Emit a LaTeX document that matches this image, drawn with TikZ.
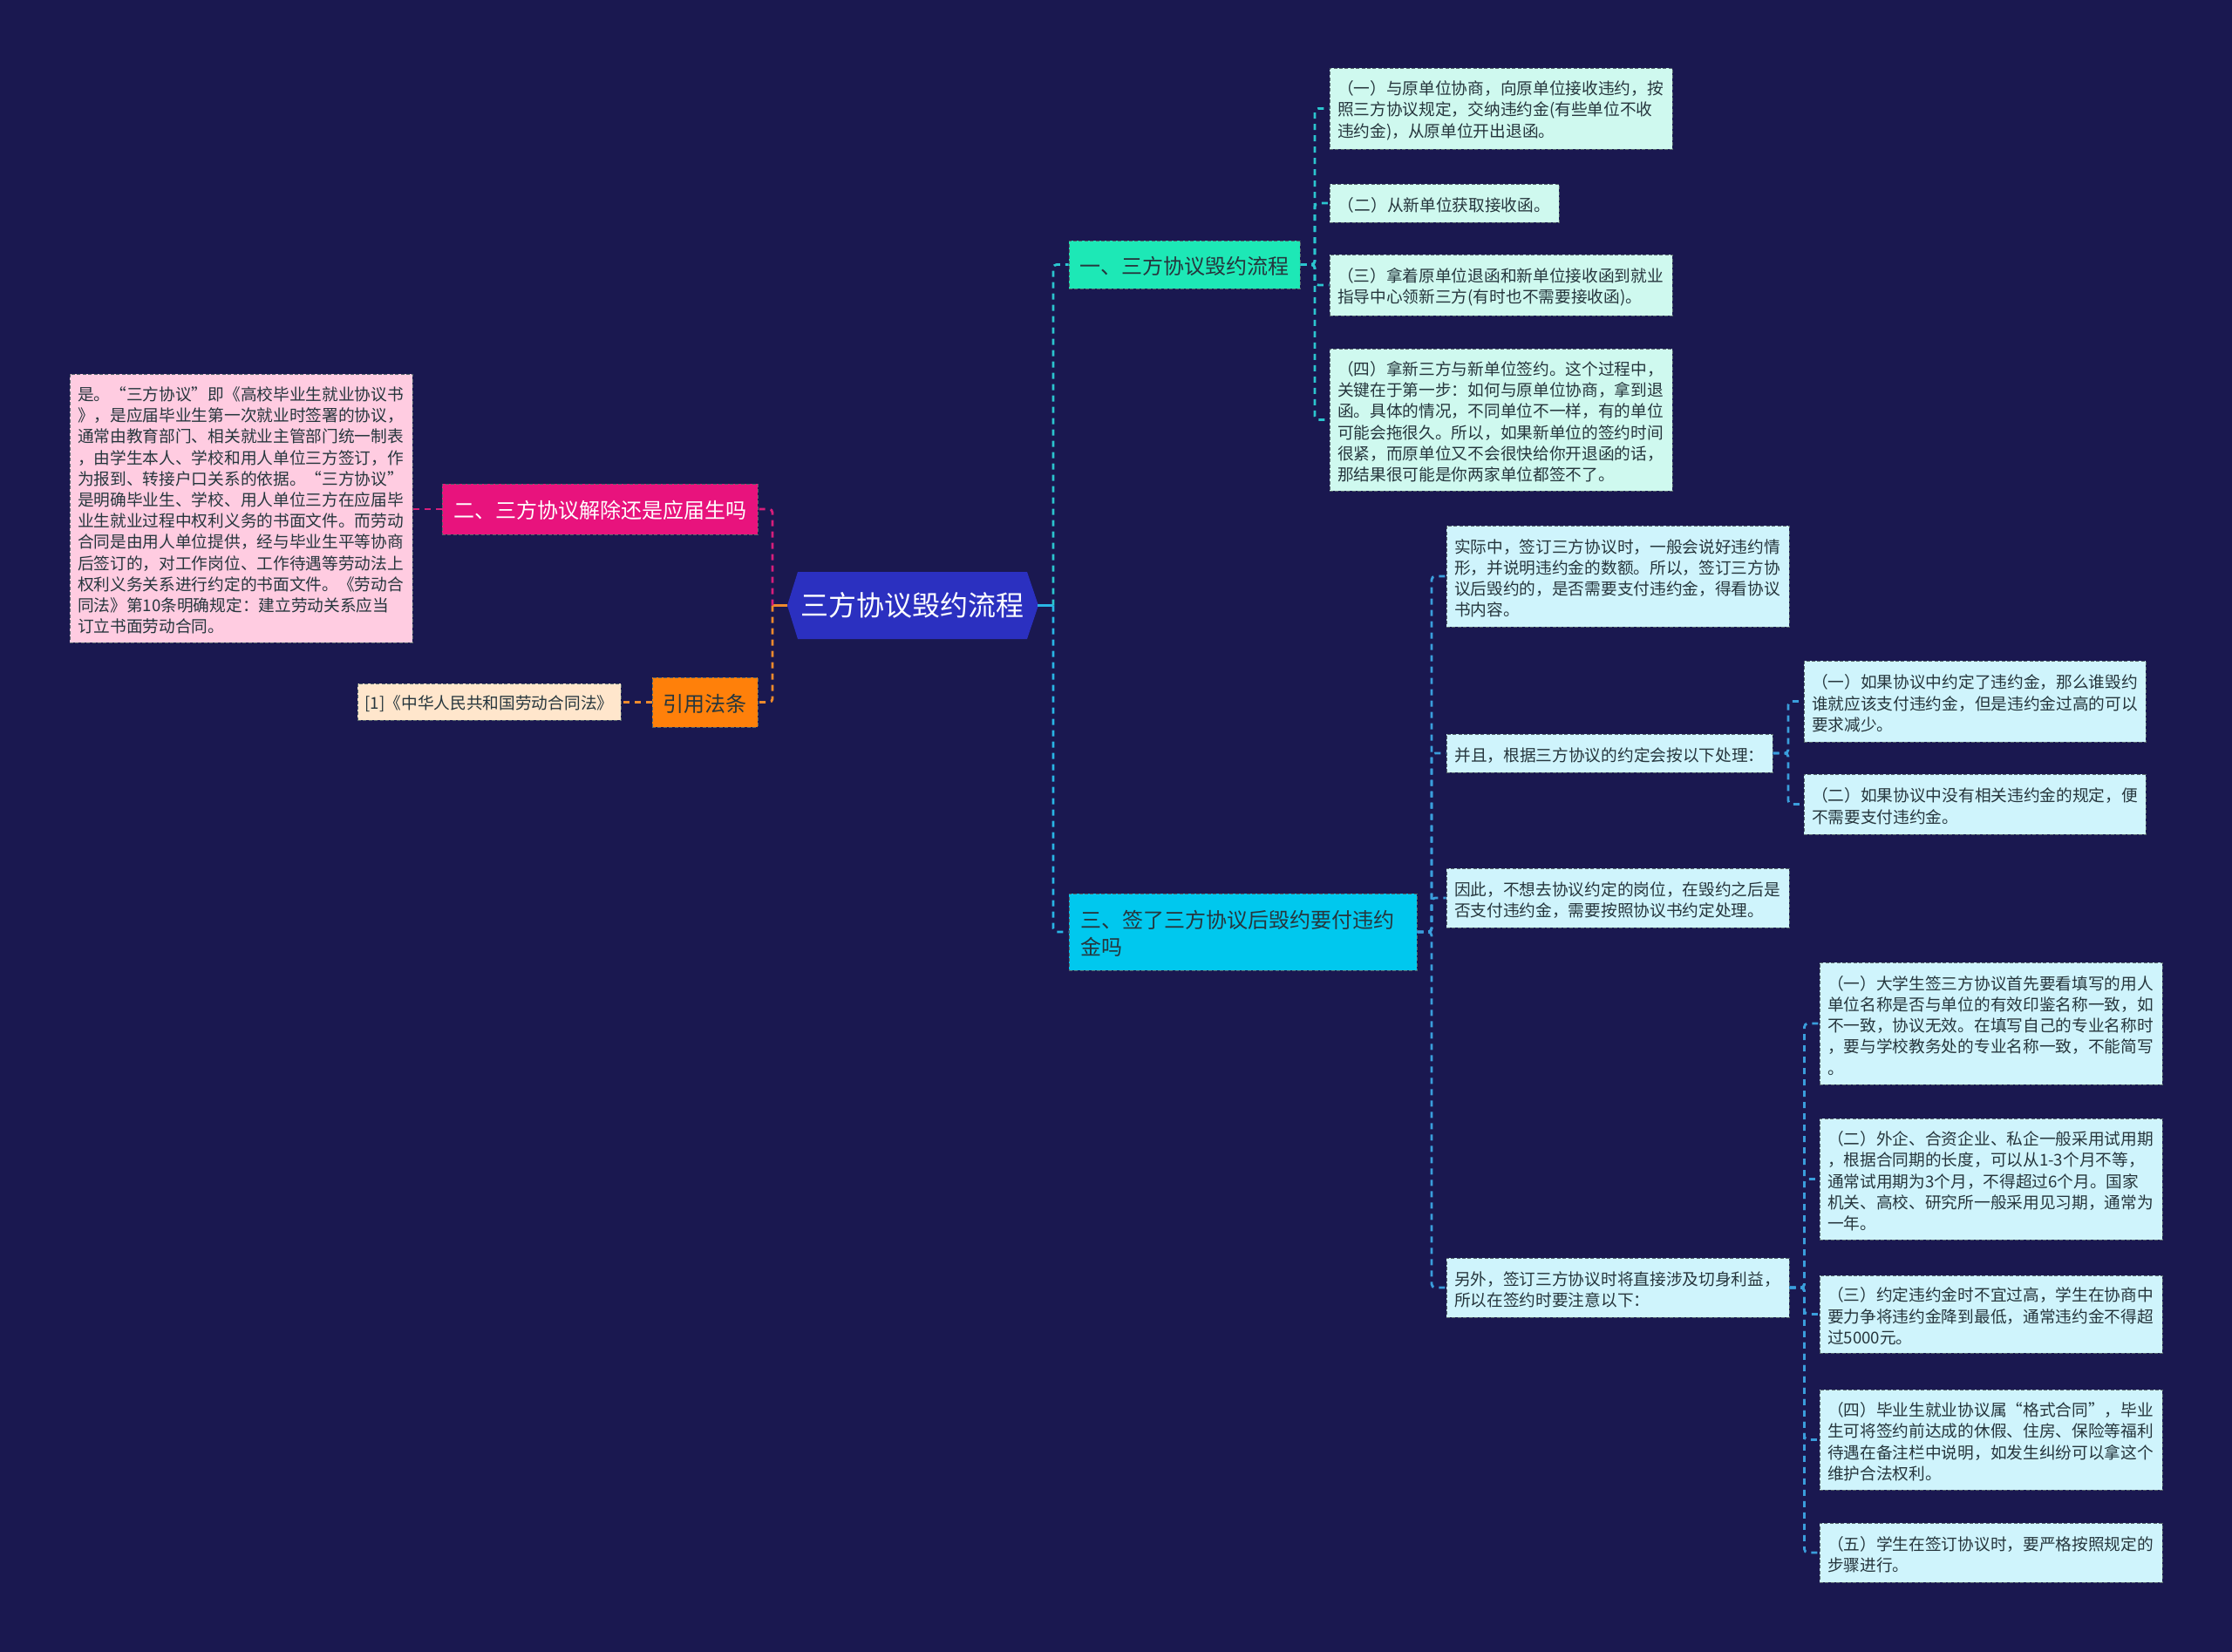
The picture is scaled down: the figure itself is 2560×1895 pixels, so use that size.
\documentclass[tikz,border=0pt]{standalone}
\usepackage{fontspec}
\setmainfont{Noto Sans CJK SC}
\usetikzlibrary{calc}
\definecolor{cBg}{HTML}{1A1850}
\definecolor{cRoot}{HTML}{2B30C0}
\definecolor{cOne}{HTML}{1DE8B6}
\definecolor{cThree}{HTML}{00C8EE}
\definecolor{cTwo}{HTML}{E8137D}
\definecolor{cCite}{HTML}{FF800A}
\definecolor{cPink}{HTML}{FFCCE1}
\definecolor{cCream}{HTML}{FFE6CC}
\definecolor{cLeafA}{HTML}{CFF9EF}
\definecolor{cLeafB}{HTML}{CFF4FC}
\definecolor{cText}{HTML}{26363D}
\definecolor{cBorder}{HTML}{55656B}
\definecolor{lOne}{HTML}{2BC5CF}
\definecolor{lThree}{HTML}{29B6E6}
\definecolor{lThreeB}{HTML}{3A9EDC}
\definecolor{lMag}{HTML}{D61E7B}
\definecolor{lOra}{HTML}{EE8A2D}
\tikzset{
  conn/.style={line width=1.4pt, dash pattern=on 3.5pt off 3pt, rounded corners=2pt},
  stub/.style={line width=1.4pt},
  boxbase/.style={rectangle, draw=cBorder, line width=0.5pt, dash pattern=on 2pt off 1.2pt, inner sep=0pt, align=left},
  leaftxt/.style={font=\fontsize{9.35pt}{12.1pt}\selectfont, text=cText, execute at begin node={\rule{0pt}{1.1em}}},
  leafa/.style={boxbase, leaftxt, fill=cLeafA},
  leafb/.style={boxbase, leaftxt, fill=cLeafB},
  pinkbox/.style={boxbase, leaftxt, fill=cPink},
  creambox/.style={boxbase, leaftxt, fill=cCream},
  mainbox/.style={boxbase, font=\fontsize{12pt}{15.5pt}\selectfont, execute at begin node={\rule{0pt}{1.0em}}},
  rootbox/.style={rectangle, inner sep=0pt, text=white, font=\fontsize{16pt}{19pt}\selectfont},
}
\begin{document}
\begin{tikzpicture}[x=0.5pt,y=-0.5pt]
\fill[cBg] (0,0) rectangle (2560,1895);
\useasboundingbox (0,0) rectangle (2560,1895);

% root hexagon
\fill[cRoot] (903,694.5) -- (915,656) -- (1178,656) -- (1191,694.5) -- (1178,733) -- (915,733) -- cycle;
\node[rootbox, minimum width=143.5pt, minimum height=38.5pt] (root) at (1046.5,694.5) {三方协议毁约流程};

% main branches
\node[mainbox, fill=cOne, text=cText, minimum width=132.5pt, minimum height=27.5pt] (n1) at (1358.5,303.5) {一、三方协议毁约流程};
\node[mainbox, fill=cThree, text=cText, minimum width=199.5pt, minimum height=44pt, text width=186.5pt] (n3) at (1425.5,1069) {三、签了三方协议后毁约要付违约\\金吗};
\node[mainbox, fill=cTwo, text=white, minimum width=181pt, minimum height=29pt] (n2) at (688,584) {二、三方协议解除还是应届生吗};
\node[mainbox, fill=cCite, text=cText, minimum width=60.5pt, minimum height=28.5pt] (n4) at (808.5,805.5) {引用法条};

% left leaves
\node[pinkbox, minimum width=196.5pt, minimum height=154pt, text width=187.5pt] (p1) at (276.5,583) {是。“三方协议”即《高校毕业生就业协议书\\》，是应届毕业生第一次就业时签署的协议，\\通常由教育部门、相关就业主管部门统一制表\\，由学生本人、学校和用人单位三方签订，作\\为报到、转接户口关系的依据。“三方协议”\\是明确毕业生、学校、用人单位三方在应届毕\\业生就业过程中权利义务的书面文件。而劳动\\合同是由用人单位提供，经与毕业生平等协商\\后签订的，对工作岗位、工作待遇等劳动法上\\权利义务关系进行约定的书面文件。《劳动合\\同法》第10条明确规定：建立劳动关系应当\\订立书面劳动合同。};
\node[creambox, minimum width=151pt, minimum height=21pt] (c1) at (561,805) {[1]《中华人民共和国劳动合同法》};

% leaves of n1
\node[leafa, minimum width=196.5pt, minimum height=46.5pt, text width=187.5pt] (a1) at (1721.5,124.5) {（一）与原单位协商，向原单位接收违约，按\\照三方协议规定，交纳违约金(有些单位不收\\违约金)，从原单位开出退函。};
\node[leafa, minimum width=131.5pt, minimum height=22pt] (a2) at (1656.5,233) {（二）从新单位获取接收函。};
\node[leafa, minimum width=196.5pt, minimum height=35pt, text width=187.5pt] (a3) at (1721.5,327) {（三）拿着原单位退函和新单位接收函到就业\\指导中心领新三方(有时也不需要接收函)。};
\node[leafa, minimum width=196.5pt, minimum height=81.5pt, text width=187.5pt] (a4) at (1721.5,481.5) {（四）拿新三方与新单位签约。这个过程中，\\关键在于第一步：如何与原单位协商，拿到退\\函。具体的情况，不同单位不一样，有的单位\\可能会拖很久。所以，如果新单位的签约时间\\很紧，而原单位又不会很快给你开退函的话，\\那结果很可能是你两家单位都签不了。};

% leaves of n3
\node[leafb, minimum width=196.5pt, minimum height=58pt, text width=187.5pt] (b1) at (1855.5,661) {实际中，签订三方协议时，一般会说好违约情\\形，并说明违约金的数额。所以，签订三方协\\议后毁约的，是否需要支付违约金，得看协议\\书内容。};
\node[leafb, minimum width=187pt, minimum height=22pt] (b2) at (1846,864) {并且，根据三方协议的约定会按以下处理：};
\node[leafb, minimum width=196.5pt, minimum height=34pt, text width=187.5pt] (b3) at (1855.5,1030) {因此，不想去协议约定的岗位，在毁约之后是\\否支付违约金，需要按照协议书约定处理。};
\node[leafb, minimum width=196.5pt, minimum height=34pt, text width=187.5pt] (b4) at (1855.5,1477) {另外，签订三方协议时将直接涉及切身利益，\\所以在签约时要注意以下：};

% leaves of b2
\node[leafb, minimum width=196pt, minimum height=46.5pt, text width=187pt] (e1) at (2265,804.5) {（一）如果协议中约定了违约金，那么谁毁约\\谁就应该支付违约金，但是违约金过高的可以\\要求减少。};
\node[leafb, minimum width=196pt, minimum height=34.5pt, text width=187pt] (e2) at (2265,922.5) {（二）如果协议中没有相关违约金的规定，便\\不需要支付违约金。};

% leaves of b4
\node[leafb, minimum width=196.5pt, minimum height=70pt, text width=187.5pt] (d1) at (2283.5,1174) {（一）大学生签三方协议首先要看填写的用人\\单位名称是否与单位的有效印鉴名称一致，如\\不一致，协议无效。在填写自己的专业名称时\\，要与学校教务处的专业名称一致，不能简写\\。};
\node[leafb, minimum width=196.5pt, minimum height=69.5pt, text width=187.5pt] (d2) at (2283.5,1352.5) {（二）外企、合资企业、私企一般采用试用期\\，根据合同期的长度，可以从1-3个月不等，\\通常试用期为3个月，不得超过6个月。国家\\机关、高校、研究所一般采用见习期，通常为\\一年。};
\node[leafb, minimum width=196.5pt, minimum height=44.5pt, text width=187.5pt] (d3) at (2283.5,1507.5) {（三）约定违约金时不宜过高，学生在协商中\\要力争将违约金降到最低，通常违约金不得超\\过5000元。};
\node[leafb, minimum width=196.5pt, minimum height=57.5pt, text width=187.5pt] (d4) at (2283.5,1651.5) {（四）毕业生就业协议属“格式合同”，毕业\\生可将签约前达成的休假、住房、保险等福利\\待遇在备注栏中说明，如发生纠纷可以拿这个\\维护合法权利。};
\node[leafb, minimum width=196.5pt, minimum height=34pt, text width=187.5pt] (d5) at (2283.5,1781) {（五）学生在签订协议时，要严格按照规定的\\步骤进行。};

% connectors: root right
\coordinate (rR) at ($(root.east)!0.5!(root.east -| n1.west)$);
\draw[stub, lThree] (root.east) -- (rR);
\draw[conn, lOne] (rR) |- (n1.west);
\draw[conn, lThree] (rR) |- (n3.west);
% root left
\coordinate (rL) at ($(root.west)!0.5!(root.west -| n2.east)$);
\draw[stub, lOra] (root.west) -- (rL);
\draw[conn, lMag] (rL) |- (n2.east);
\draw[conn, lOra] (rL) |- (n4.east);
\draw[conn, lMag] (n2.west) -- (n2.west -| p1.east);
\draw[conn, lOra] (n4.west) -- (n4.west -| c1.east);

% n1 -> leaves
\foreach \c in {a1,a2,a3,a4}
  \draw[conn, lOne] (n1.east) -- ($(n1.east)!0.5!(n1.east -| \c.west)$) |- (\c.west);
% n3 -> leaves
\foreach \c in {b1,b2,b3,b4}
  \draw[conn, lThreeB] (n3.east) -- ($(n3.east)!0.5!(n3.east -| \c.west)$) |- (\c.west);
% b2 -> leaves
\foreach \c in {e1,e2}
  \draw[conn, lThreeB] (b2.east) -- ($(b2.east)!0.5!(b2.east -| \c.west)$) |- (\c.west);
% b4 -> leaves
\foreach \c in {d1,d2,d3,d4,d5}
  \draw[conn, lThreeB] (b4.east) -- ($(b4.east)!0.5!(b4.east -| \c.west)$) |- (\c.west);
\end{tikzpicture}
\end{document}
